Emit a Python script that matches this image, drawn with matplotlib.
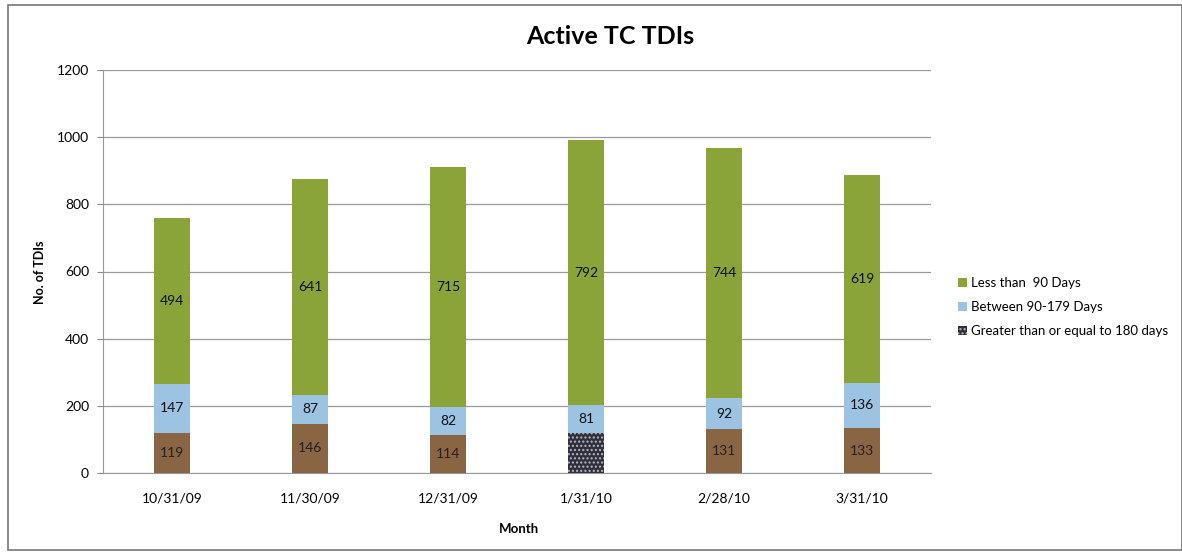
import matplotlib
matplotlib.use("Agg")
import matplotlib.pyplot as plt
from matplotlib.patches import Patch, Rectangle
import numpy as np

months = ["10/31/09", "11/30/09", "12/31/09", "1/31/10", "2/28/10", "3/31/10"]
ge180 = [119, 146, 114, 120, 131, 133]
ge180_labels = ["119", "146", "114", "", "131", "133"]
between = [147, 87, 82, 81, 92, 136]
less90 = [494, 641, 715, 792, 744, 619]
series_names = ["Less than  90 Days", "Between 90-179 Days", "Greater than or equal to 180 days"]
yticks = [0, 200, 400, 600, 800, 1000, 1200]

plt.rcParams['font.family'] = ['Lato', 'DejaVu Sans']

green = "#8AA43A"
blue = "#9CC3E2"
brown = "#8A6543"
dark = "#2F303C"

fig = plt.figure(figsize=(11.82, 5.54), dpi=100)
fig.patch.set_facecolor("white")
ax = fig.add_axes([103/1182, 1 - 473/554, (931-103)/1182, (473-70)/554])

x = np.arange(len(months))
w = 0.255
bcolors = [brown, brown, brown, dark, brown, brown]
b1 = ax.bar(x, ge180, w, color=bcolors, zorder=3)
b1[3].set_hatch("....")
b1[3].set_edgecolor("#b8b8c0")
b1[3].set_linewidth(0)
b2 = ax.bar(x, between, w, bottom=ge180, color=blue, zorder=3)
bot3 = [a + b for a, b in zip(ge180, between)]
b3 = ax.bar(x, less90, w, bottom=bot3, color=green, zorder=3)

for i in range(len(months)):
    ax.text(x[i], ge180[i] / 2, ge180_labels[i], ha="center", va="center", fontsize=10, color="#222222", zorder=4)
    ax.text(x[i], ge180[i] + between[i] / 2, str(between[i]), ha="center", va="center", fontsize=10, color="#111111", zorder=4)
    ax.text(x[i], bot3[i] + less90[i] / 2, str(less90[i]), ha="center", va="center", fontsize=10, color="#111111", zorder=4)

ax.set_xlim(-0.5, len(months) - 0.5)
ax.set_ylim(0, 1200)
ax.set_yticks(yticks)
ax.set_yticklabels([str(t) for t in yticks], fontsize=10)
ax.set_xticks(x)
ax.set_xticklabels(months, fontsize=10)
ax.tick_params(axis="y", length=4, color="#888888", pad=6)
ax.tick_params(axis="x", length=0, pad=14)
ax.grid(axis="y", color="#9a9a9a", linewidth=0.9, zorder=0)
for s in ["top", "right"]:
    ax.spines[s].set_visible(False)
ax.spines["left"].set_color("#999999")
ax.spines["bottom"].set_color("#999999")

fig.text(610/1182, 1 - 37/554, "Active TC TDIs", ha="center", va="center", fontsize=18, fontweight="bold")
fig.text(40/1182, 1 - 272/554, "No. of TDIs", ha="center", va="center", rotation=90, fontsize=9, fontweight="bold")
fig.text(519/1182, 1 - 529/554, "Month", ha="center", va="center", fontsize=9.5, fontweight="bold")

handles = [Patch(facecolor=green), Patch(facecolor=blue), Patch(facecolor=dark, hatch="....", edgecolor="#b8b8c0", linewidth=0)]
fig.legend(handles, series_names, loc="center left", bbox_to_anchor=(946/1182, 1 - 307/554),
           frameon=False, fontsize=9.5, handlelength=0.7, handleheight=0.7, handletextpad=0.3, labelspacing=0.9)

fig.add_artist(Rectangle((8/1182, 4/554), 1 - 8/1182, 1 - 9/554, transform=fig.transFigure,
                         fill=False, edgecolor="#777777", linewidth=1.2))

fig.savefig("out.png", dpi=100, facecolor="white")
